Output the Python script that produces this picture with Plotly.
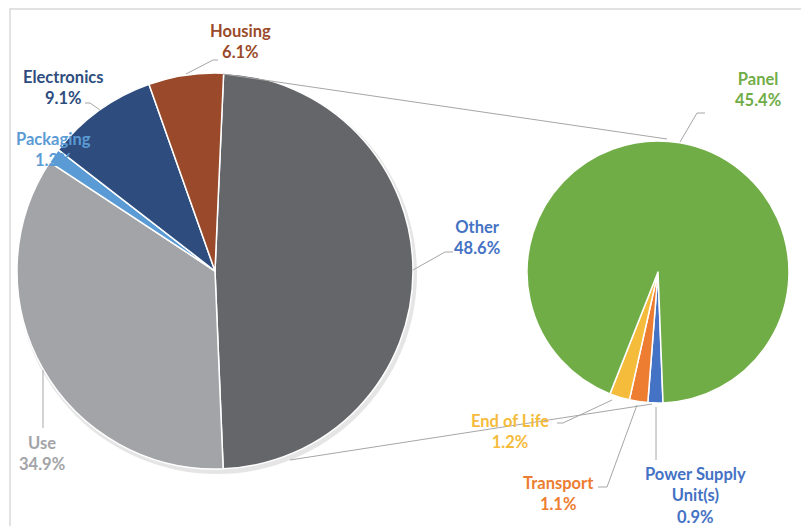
import plotly.graph_objects as go

# ---- data ----
main_labels = ["Other", "Use", "Packaging", "Electronics", "Housing"]
main_values = [48.6, 34.9, 1.2, 9.1, 6.1]
main_colors = ["#646669", "#a3a4a7", "#5b9bd5", "#2e4d7e", "#9a4a2a"]
main_text_colors = ["#4472c4", "#a3a4a7", "#5b9bd5", "#2e4d7e", "#9a4a2a"]

sub_labels = ["Power Supply Unit(s)", "Transport", "End of Life", "Panel"]
sub_values = [0.9, 1.1, 1.2, 45.4]
sub_colors = ["#4472c4", "#ed7d31", "#f5bb3a", "#70ad47"]
sub_text_colors = ["#4472c4", "#ed7d31", "#f5bb3a", "#70ad47"]
sub_display = ["Power Supply<br>Unit(s)", "Transport", "End of Life", "Panel"]

W, H = 809, 526
OFF = 8  # page body margin
FW, FH = W - OFF, H - OFF

def dom(cx, cy, r):
    return dict(x=[(cx - r - OFF) / FW, (cx + r - OFF) / FW],
                y=[1 - (cy + r - OFF) / FH, 1 - (cy - r - OFF) / FH])

fig = go.Figure()
# soft shadow for main pie
fig.add_trace(go.Pie(values=[1], marker=dict(colors=["rgba(0,0,0,0.10)"], line=dict(width=0)),
                     domain=dom(217, 274, 200), textinfo="none", hoverinfo="skip",
                     sort=False, showlegend=False))
fig.add_trace(go.Pie(
    labels=main_labels, values=main_values, sort=False, direction="clockwise",
    rotation=2.5, marker=dict(colors=main_colors, line=dict(color="white", width=1.5)),
    textinfo="none", domain=dom(215, 271, 198), showlegend=False))
fig.add_trace(go.Pie(
    labels=sub_labels, values=sub_values, sort=False, direction="clockwise",
    rotation=177.8, marker=dict(colors=sub_colors, line=dict(color="white", width=1.5)),
    textinfo="none", domain=dom(658, 272, 131), showlegend=False))

# label positions (reference pixels)
main_pos = {"Other": (477, 237), "Use": (42, 453), "Packaging": (53, 149),
            "Electronics": (63, 87), "Housing": (240, 41)}
sub_pos = {"Power Supply Unit(s)": (695, 495), "Transport": (558, 493),
           "End of Life": (510, 431), "Panel": (758, 89)}

annotations = []
for lab, val, col in zip(main_labels, main_values, main_text_colors):
    x, y = main_pos[lab]
    annotations.append(dict(x=x, y=y, text=f"<b>{lab}<br>{val:.1f}%</b>", font=dict(color=col)))
for lab, disp, val, col in zip(sub_labels, sub_display, sub_values, sub_text_colors):
    x, y = sub_pos[lab]
    annotations.append(dict(x=x, y=y, text=f"<b>{disp}<br>{val:.1f}%</b>", font=dict(color=col)))
for a in annotations:
    a.update(xref="x", yref="y", showarrow=False, xanchor="center", yanchor="middle",
             font=dict(color=a["font"]["color"], family="Lato, Open Sans, sans-serif", size=16.5))

lc = "#a6a6a6"
paths = [
    # connectors between pies
    [(223, 74), (667, 139)],
    [(290, 460), (652, 404)],
    # leader lines
    [(186, 74), (213, 60), (218, 60)],
    [(100, 110), (90, 103), (85, 103)],
    [(43, 370), (43, 428)],
    [(413, 270), (445, 252), (453, 252)],
    [(680, 142), (697, 113), (705, 113)],
    [(612, 400), (563, 423), (557, 423)],
    [(637, 405), (607, 487), (598, 487)],
    [(656, 407), (656, 460)],
]
shapes = []
for p in paths:
    d = "M " + " L ".join(f"{x},{y}" for x, y in p)
    shapes.append(dict(type="path", path=d, xref="x", yref="y", line=dict(color=lc, width=1)))
# frame
shapes.append(dict(type="path", path=f"M 10,{H} L 10,9 L {W},9", xref="x", yref="y",
                   line=dict(color="#d9d9d9", width=1.5)))

fig.update_layout(
    width=FW, height=FH, margin=dict(l=0, r=0, t=0, b=0),
    paper_bgcolor="white", plot_bgcolor="rgba(0,0,0,0)",
    xaxis=dict(range=[OFF, W], visible=False, fixedrange=True),
    yaxis=dict(range=[H, OFF], visible=False, fixedrange=True),
    annotations=annotations, shapes=shapes, showlegend=False,
)
fig.write_html("out.html")
